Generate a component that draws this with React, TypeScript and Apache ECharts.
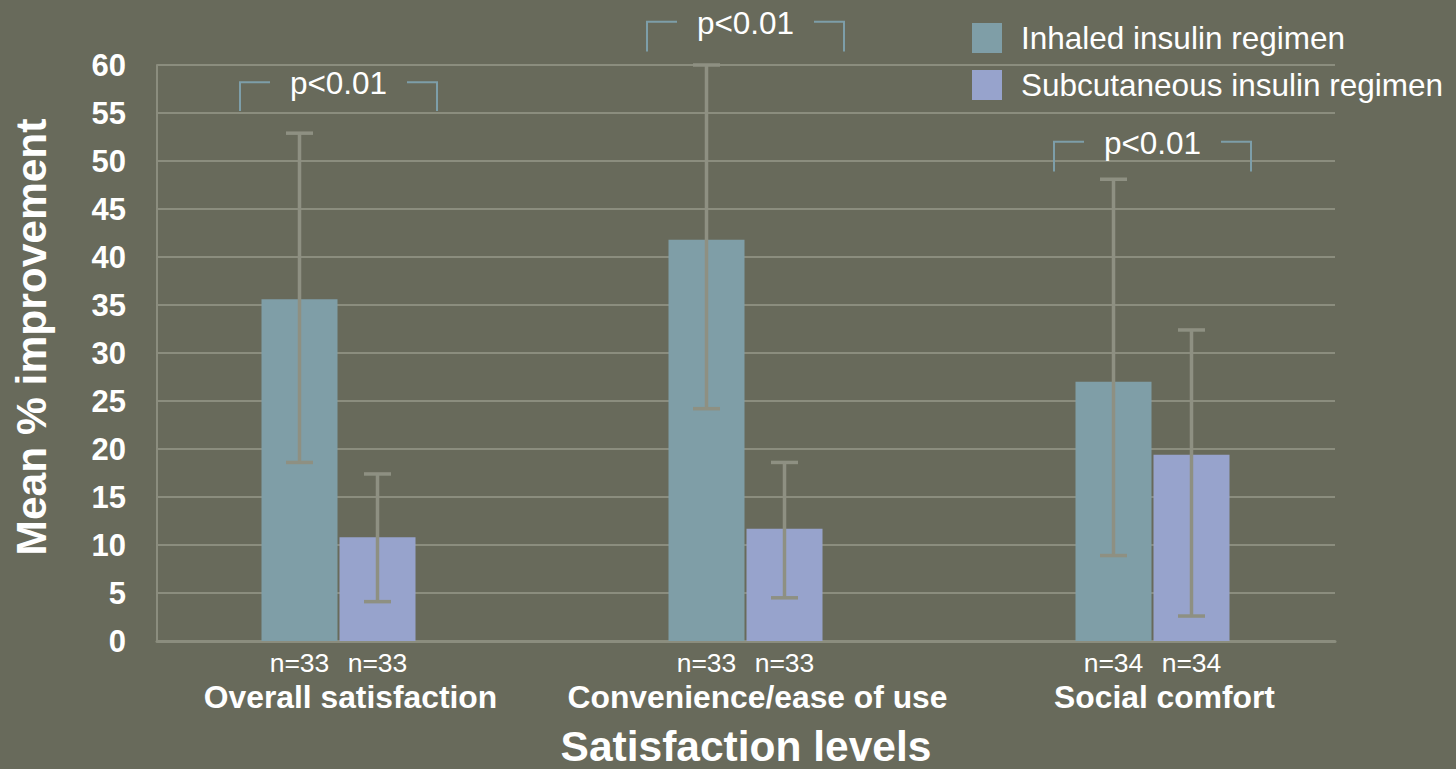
import React, { useEffect, useRef } from "react";
import * as echarts from "echarts";

// Satisfaction categories along the x axis
const categories = ["Overall satisfaction", "Convenience/ease of use", "Social comfort"];

// Mean % improvement with error-bar limits, inhaled regimen
const inhaledMean = [35.6, 41.8, 27.0];
const inhaledLow = [18.6, 24.2, 8.9];
const inhaledHigh = [52.9, 60.0, 48.1];
const inhaledN = [33, 33, 34];

// Mean % improvement with error-bar limits, subcutaneous regimen
const subcutMean = [10.8, 11.7, 19.4];
const subcutLow = [4.1, 4.5, 2.6];
const subcutHigh = [17.4, 18.6, 32.4];
const subcutN = [33, 33, 34];

// Significance brackets above each category
const pLabels = ["p<0.01", "p<0.01", "p<0.01"];
const bracketTop = [58.2, 64.5, 52.0];
const bracketBottom = [55.2, 61.4, 48.9];

// Value axis range
const yMin = 0;
const yMax = 60;
const yStep = 5;

const seriesNames = ["Inhaled insulin regimen", "Subcutaneous insulin regimen"];

const FONT = "'Liberation Sans', Arial, Helvetica, sans-serif";
const BG = "#686a5b";
const GRID_LINE = "#8b8d7e";
const INHALED = "#7f9ea7";
const SUBCUT = "#97a3cc";
const ERR = "#8e9082";
const BRACKET = "#7d9ea9";

const BAR_W = 76;
const BAR_GAP = 2;
const CAP = 27;

function errorBarRenderer(offset: number) {
  return (_params: any, api: any) => {
    const cat = api.value(0);
    const top = api.coord([cat, api.value(2)]);
    const bot = api.coord([cat, api.value(1)]);
    const x = top[0] + offset;
    const style = { stroke: ERR, lineWidth: 3.5 };
    return {
      type: "group",
      children: [
        { type: "line", shape: { x1: x, y1: top[1], x2: x, y2: bot[1] }, style },
        { type: "line", shape: { x1: x - CAP / 2, y1: top[1], x2: x + CAP / 2, y2: top[1] }, style },
        { type: "line", shape: { x1: x - CAP / 2, y1: bot[1], x2: x + CAP / 2, y2: bot[1] }, style },
      ],
    };
  };
}

function bracketRenderer(params: any, api: any) {
  const cat = api.value(0);
  const t = api.coord([cat, api.value(1)]);
  const b = api.coord([cat, api.value(2)]);
  const cx = t[0];
  const hw = 98.5;
  const arm = 30;
  const style = { stroke: BRACKET, lineWidth: 2, fill: "none" };
  return {
    type: "group",
    children: [
      {
        type: "polyline",
        shape: { points: [[cx - hw, b[1]], [cx - hw, t[1]], [cx - hw + arm, t[1]]] },
        style,
      },
      {
        type: "polyline",
        shape: { points: [[cx + hw - arm, t[1]], [cx + hw, t[1]], [cx + hw, b[1]]] },
        style,
      },
      {
        type: "text",
        x: cx,
        y: t[1] + 1,
        style: {
          text: pLabels[params.dataIndex],
          fill: "#ffffff",
          fontSize: 31.5,
          fontFamily: FONT,
          align: "center",
          verticalAlign: "middle",
        },
      },
    ],
  };
}

export default function App() {
  const ref = useRef<HTMLDivElement>(null);

  useEffect(() => {
    if (!ref.current) return;
    const chart = echarts.init(ref.current, undefined, { renderer: "svg" });

    const nLabel = (counts: number[]) => ({
      show: true,
      position: ["50%", "100%"],
      offset: [0, 8],
      align: "center",
      verticalAlign: "top",
      color: "#ffffff",
      fontSize: 26.5,
      fontFamily: FONT,
      formatter: (p: any) => `n=${counts[p.dataIndex]}`,
    });

    const option: any = {
      animation: false,
      backgroundColor: BG,
      textStyle: { fontFamily: FONT },
      legend: {
        orient: "vertical",
        left: 972,
        top: 22,
        padding: 0,
        itemWidth: 30,
        itemHeight: 30,
        itemGap: 15,
        icon: "rect",
        data: seriesNames,
        textStyle: {
          color: "#ffffff",
          fontSize: 31.5,
          lineHeight: 30,
          fontFamily: FONT,
          padding: [0, 0, 0, 14],
        },
      },
      grid: [
        { left: 157, right: 121, top: 65, bottom: 128, outerBoundsMode: "none" },
        { left: 135, right: 100, top: 65, bottom: 128, outerBoundsMode: "none" },
      ],
      xAxis: [
        {
          type: "category",
          gridIndex: 0,
          data: categories,
          axisLine: { show: true, lineStyle: { color: GRID_LINE, width: 3 } },
          axisTick: { show: false },
          axisLabel: { show: false },
          name: "Satisfaction levels",
          nameLocation: "middle",
          nameGap: 84,
          nameTextStyle: {
            color: "#ffffff",
            fontSize: 42.5,
            lineHeight: 42,
            fontWeight: "bold",
            fontFamily: FONT,
          },
        },
        {
          type: "category",
          gridIndex: 1,
          data: categories,
          axisLine: { show: false },
          axisTick: { show: false },
          axisLabel: {
            interval: 0,
            color: "#ffffff",
            fontSize: 31.8,
            fontWeight: "bold",
            fontFamily: FONT,
            margin: 40,
            lineHeight: 32,
            padding: [0, 0, 0, 24],
          },
        },
      ],
      yAxis: [
        {
          type: "value",
          gridIndex: 0,
          min: yMin,
          max: yMax,
          interval: yStep,
          axisLine: { show: true, lineStyle: { color: GRID_LINE, width: 2 } },
          axisTick: { show: false },
          splitLine: { show: true, lineStyle: { color: GRID_LINE, width: 2 } },
          axisLabel: {
            color: "#ffffff",
            fontSize: 31,
            fontWeight: "bold",
            fontFamily: FONT,
            margin: 31,
          },
          name: "Mean % improvement",
          nameLocation: "middle",
          nameRotate: 90,
          nameGap: 104,
          nameTextStyle: {
            color: "#ffffff",
            fontSize: 42.5,
            fontWeight: "bold",
            fontFamily: FONT,
            padding: [0, 0, 0, 32],
          },
        },
        {
          type: "value",
          gridIndex: 1,
          min: yMin,
          max: yMax,
          interval: yStep,
          show: false,
          splitLine: { show: false },
        },
      ],
      series: [
        {
          name: seriesNames[0],
          type: "bar",
          xAxisIndex: 1,
          yAxisIndex: 1,
          barWidth: BAR_W,
          barGap: `${(BAR_GAP / BAR_W) * 100}%`,
          itemStyle: { color: INHALED },
          data: inhaledMean,
          label: nLabel(inhaledN),
          z: 2,
        },
        {
          name: seriesNames[1],
          type: "bar",
          xAxisIndex: 1,
          yAxisIndex: 1,
          barWidth: BAR_W,
          itemStyle: { color: SUBCUT },
          data: subcutMean,
          label: nLabel(subcutN),
          z: 2,
        },
        {
          type: "custom",
          xAxisIndex: 1,
          yAxisIndex: 1,
          clip: false,
          z: 5,
          renderItem: errorBarRenderer(-(BAR_W + BAR_GAP) / 2),
          encode: { x: 0, y: [1, 2] },
          data: categories.map((_, i) => [i, inhaledLow[i], inhaledHigh[i]]),
        },
        {
          type: "custom",
          xAxisIndex: 1,
          yAxisIndex: 1,
          clip: false,
          z: 5,
          renderItem: errorBarRenderer((BAR_W + BAR_GAP) / 2),
          encode: { x: 0, y: [1, 2] },
          data: categories.map((_, i) => [i, subcutLow[i], subcutHigh[i]]),
        },
        {
          type: "custom",
          xAxisIndex: 1,
          yAxisIndex: 1,
          clip: false,
          z: 5,
          renderItem: bracketRenderer,
          encode: { x: 0, y: [1, 2] },
          data: categories.map((_, i) => [i, bracketTop[i], bracketBottom[i]]),
        },
      ],
    };

    chart.setOption(option);
    return () => chart.dispose();
  }, []);

  return (
    <div
      ref={ref}
      style={{ position: "fixed", left: 0, top: 0, width: 1456, height: 769, background: BG }}
    />
  );
}
